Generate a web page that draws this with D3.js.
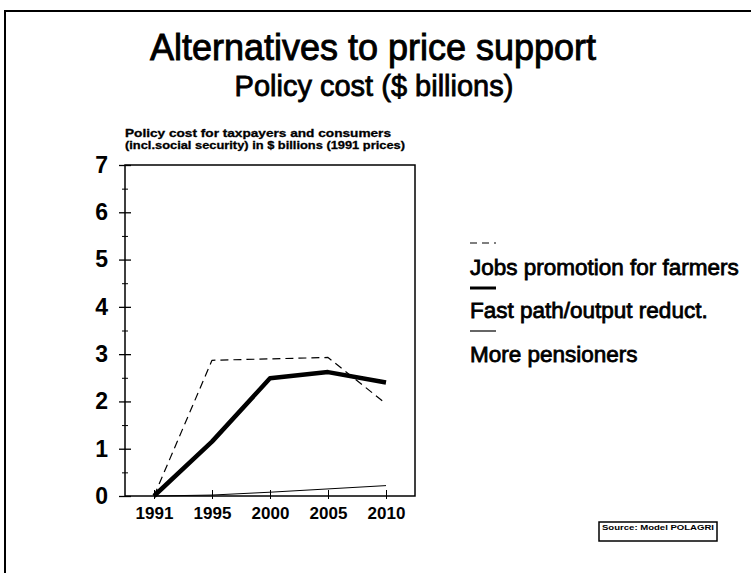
<!DOCTYPE html>
<html>
<head>
<meta charset="utf-8">
<script src="https://cdn.jsdelivr.net/npm/d3@7"></script>
<style>
  html, body { margin: 0; padding: 0; background: #fff; }
  svg { display: block; font-family: "Liberation Sans", Arial, Helvetica, sans-serif; }
</style>
</head>
<body>
<svg id="chart" width="751" height="573"></svg>
<script>
// Policy cost scenarios, $ billions (1991 prices)
const years = ["1991", "1995", "2000", "2005", "2010"];
const jobsPromotion = [0, 2.87, 2.9, 2.93, 1.95];
const fastPath = [0, 1.15, 2.49, 2.62, 2.4];
const morePensioners = [0, 0.02, 0.08, 0.15, 0.22];
const yTicks = [0, 1, 2, 3, 4, 5, 6, 7];
const seriesNames = ["Jobs promotion for farmers", "Fast path/output reduct.", "More pensioners"];

const svg = d3.select("#chart");

// page frame (top and left edges)
svg.append("path")
  .attr("d", "M5,573 L5,11 L751,11")
  .attr("fill", "none").attr("stroke", "#000").attr("stroke-width", 2);

// titles
svg.append("text").attr("x", 373).attr("y", 60).attr("text-anchor", "middle")
  .attr("font-size", 36).attr("stroke", "#000").attr("stroke-width", 0.9)
  .text("Alternatives to price support");
svg.append("text").attr("x", 374).attr("y", 96).attr("text-anchor", "middle")
  .attr("font-size", 29).attr("stroke", "#000").attr("stroke-width", 0.8)
  .text("Policy cost ($ billions)");

// axis caption
svg.append("text").attr("x", 125).attr("y", 137).attr("font-size", 11).attr("font-weight", "bold")
  .attr("stroke", "#000").attr("stroke-width", 0.3)
  .attr("textLength", 266).attr("lengthAdjust", "spacingAndGlyphs")
  .text("Policy cost for taxpayers and consumers");
svg.append("text").attr("x", 125).attr("y", 149).attr("font-size", 11).attr("font-weight", "bold")
  .attr("stroke", "#000").attr("stroke-width", 0.3)
  .attr("textLength", 280).attr("lengthAdjust", "spacingAndGlyphs")
  .text("(incl.social security) in $ billions (1991 prices)");

const plotLeft = 125, plotRight = 415, plotTop = 165, plotBottom = 496;
const x = d3.scalePoint().domain(years).range([plotLeft, plotRight]).padding(0.5);
const y = d3.scaleLinear().domain([0, 7]).range([plotBottom, plotTop]);

// plot box
svg.append("rect").attr("x", plotLeft).attr("y", plotTop)
  .attr("width", plotRight - plotLeft).attr("height", plotBottom - plotTop)
  .attr("fill", "none").attr("stroke", "#000").attr("stroke-width", 1.5);

// y axis: major ticks crossing the axis, minor ticks at halves
const yMajor = d3.axisLeft(y).tickValues(yTicks).tickFormat(d3.format("d")).tickSizeInner(6).tickSizeOuter(0).tickPadding(11);
const gy = svg.append("g").attr("transform", `translate(${plotLeft},0)`).call(yMajor);
gy.select(".domain").remove();
gy.selectAll(".tick line").attr("x1", 6).attr("stroke-width", 1.3);
gy.selectAll(".tick text").attr("font-size", 23).attr("font-weight", "bold")
  .attr("font-family", "Liberation Sans, Arial, sans-serif").attr("fill", "#000");
const yMinor = d3.axisLeft(y).tickValues(d3.range(0.5, 7, 1)).tickFormat("").tickSizeInner(3).tickSizeOuter(0);
const gym = svg.append("g").attr("transform", `translate(${plotLeft},0)`).call(yMinor);
gym.select(".domain").remove();
gym.selectAll(".tick line").attr("x1", 3);

// x axis
const xAxis = d3.axisBottom(x).tickSizeInner(3).tickSizeOuter(0).tickPadding(8);
const gx = svg.append("g").attr("transform", `translate(0,${plotBottom})`).call(xAxis);
gx.select(".domain").remove();
gx.selectAll(".tick line").attr("y1", -6);
gx.selectAll(".tick text").attr("font-size", 17).attr("font-weight", "bold")
  .attr("font-family", "Liberation Sans, Arial, sans-serif").attr("fill", "#000");

// series lines
const styles = [
  { data: jobsPromotion, width: 1.2, dash: "8,5" },
  { data: fastPath, width: 4.5, dash: null },
  { data: morePensioners, width: 1, dash: null }
];
const line = d3.line().x((d, i) => x(years[i])).y(d => y(d));
styles.forEach(s => {
  svg.append("path").datum(s.data)
    .attr("d", line)
    .attr("fill", "none").attr("stroke", "#000")
    .attr("stroke-width", s.width)
    .attr("stroke-linejoin", "round")
    .attr("stroke-dasharray", s.dash);
});

// legend
const legendLineY = [243, 288, 331];
const legendTextY = [275, 318, 362];
styles.forEach((s, i) => {
  svg.append("line").attr("x1", 470).attr("x2", 496)
    .attr("y1", legendLineY[i]).attr("y2", legendLineY[i])
    .attr("stroke", "#000").attr("stroke-width", i === 1 ? 3 : 1.2)
    .attr("stroke-dasharray", i === 0 ? "7,5" : null);
  svg.append("text").attr("x", 470).attr("y", legendTextY[i])
    .attr("font-size", 22.5).attr("stroke", "#000").attr("stroke-width", 0.8)
    .text(seriesNames[i]);
});

// source box
svg.append("rect").attr("x", 599).attr("y", 522).attr("width", 118).attr("height", 19)
  .attr("fill", "#fff").attr("stroke", "#000").attr("stroke-width", 1.5);
svg.append("text").attr("x", 602).attr("y", 530).attr("font-size", 7).attr("font-weight", "bold")
  .attr("textLength", 112).attr("lengthAdjust", "spacingAndGlyphs")
  .text("Source: Model POLAGRI");
</script>
</body>
</html>
